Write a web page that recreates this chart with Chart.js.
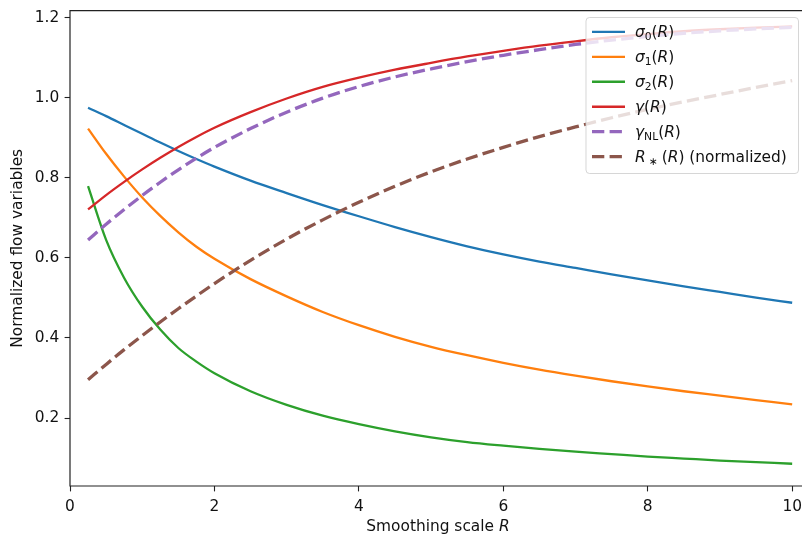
<!DOCTYPE html>
<html><head><meta charset="utf-8">
<script src="https://cdn.jsdelivr.net/npm/chart.js@4"></script>
<style>html,body{margin:0;padding:0;overflow:hidden;background:#fff;width:802px;height:536px}
#wrap{width:808px;height:540px;margin-top:-4px}</style></head>
<body><div id="wrap"><canvas id="c" width="808" height="540"></canvas></div>
<script>
// ---- data ----
const R = [0.25,0.5,0.75,1,1.25,1.5,1.75,2,2.5,3,3.5,4,4.5,5,5.5,6,6.5,7,7.5,8,8.5,9,9.5,10];
const sigma0 = [0.975,0.954,0.932,0.910,0.888,0.867,0.847,0.828,0.793,0.762,0.732,0.704,0.677,0.652,0.629,0.609,0.591,0.575,0.559,0.544,0.529,0.515,0.501,0.488];
const sigma1 = [0.923,0.860,0.803,0.751,0.705,0.664,0.628,0.598,0.547,0.504,0.465,0.432,0.403,0.378,0.357,0.338,0.321,0.306,0.292,0.279,0.267,0.256,0.245,0.234];
const sigma2 = [0.779,0.645,0.550,0.478,0.421,0.375,0.341,0.312,0.267,0.233,0.206,0.185,0.167,0.152,0.140,0.131,0.123,0.116,0.110,0.104,0.099,0.094,0.090,0.086];
const gammaR = [0.721,0.757,0.790,0.821,0.850,0.877,0.902,0.925,0.964,0.998,1.027,1.050,1.070,1.087,1.103,1.117,1.130,1.141,1.151,1.159,1.166,1.171,1.175,1.178];
const gammaNL = [0.645,0.684,0.721,0.756,0.789,0.820,0.849,0.876,0.923,0.964,0.999,1.028,1.052,1.072,1.090,1.106,1.120,1.133,1.144,1.153,1.161,1.167,1.172,1.176];
const Rstar = [0.296,0.334,0.371,0.406,0.440,0.473,0.505,0.536,0.594,0.647,0.695,0.739,0.779,0.815,0.847,0.876,0.903,0.927,0.950,0.971,0.990,1.008,1.026,1.043];

const xTickValues = [0,2,4,6,8,10];
const xTickLabels = ['0','2','4','6','8','10'];
const yTickValues = [0.2,0.4,0.6,0.8,1.0,1.2];
const yTickLabels = ['0.2','0.4','0.6','0.8','1.0','1.2'];
const xTitleText = 'Smoothing scale ';
const xTitleVar = 'R';
const yTitleText = 'Normalized flow variables';

const seriesNames = ['σ0(R)','σ1(R)','σ2(R)','γ(R)','γNL(R)','R∗(R) (normalized)'];
const legendParts = [
  [{t:'σ',it:1},{t:'0',sub:1},{t:'('},{t:'R',it:1},{t:')'}],
  [{t:'σ',it:1},{t:'1',sub:1},{t:'('},{t:'R',it:1},{t:')'}],
  [{t:'σ',it:1},{t:'2',sub:1},{t:'('},{t:'R',it:1},{t:')'}],
  [{t:'γ',it:1},{t:'('},{t:'R',it:1},{t:')'}],
  [{t:'γ',it:1},{t:'NL',sub:1},{t:'('},{t:'R',it:1},{t:')'}],
  [{t:'R',it:1,gap:3},{t:'∗',sub:1,gap:4},{t:'('},{t:'R',it:1},{t:')'},{t:' (normalized)'}]
];
const seriesValues = [sigma0, sigma1, sigma2, gammaR, gammaNL, Rstar];
const colors = ['#1f77b4','#ff7f0e','#2ca02c','#d62728','#9467bd','#8c564b'];
const dashed = [false,false,false,false,true,true];

// ---- styles ----
const F = 15.4;
const FAM = '"DejaVu Sans"';
const SOLID_W = 2.3, DASH_W = 3.3, DASH = [12.3, 5.3];
const OFF = 4; // canvas is shifted up by this many px

const datasets = seriesValues.map((vals, i) => ({
  label: seriesNames[i],
  data: R.map((r, k) => ({x: r, y: vals[k]})),
  borderColor: colors[i],
  backgroundColor: colors[i],
  borderWidth: dashed[i] ? DASH_W : SOLID_W,
  borderDash: dashed[i] ? DASH : [],
  borderCapStyle: 'butt',
  pointRadius: 0,
  fill: false,
  cubicInterpolationMode: 'monotone',
  order: seriesValues.length - i
}));

const framePlugin = {
  id: 'frame',
  afterDatasetsDraw(chart) {
    const {ctx, chartArea: a} = chart;
    ctx.save();
    ctx.strokeStyle = '#222';
    ctx.lineWidth = 1.2;
    ctx.beginPath();
    ctx.moveTo(a.left, a.bottom); ctx.lineTo(a.left, a.top); ctx.lineTo(a.right, a.top);
    ctx.lineTo(a.right, a.bottom); ctx.closePath();
    ctx.stroke();
    ctx.restore();
  },
  afterDraw(chart) {
    const ctx = chart.ctx;
    const a = chart.chartArea;
    ctx.save();
    ctx.fillStyle = '#111';
    ctx.textBaseline = 'alphabetic';
    ctx.font = F + 'px ' + FAM;
    const w1 = ctx.measureText(xTitleText).width;
    ctx.font = 'italic ' + F + 'px ' + FAM;
    const w2 = ctx.measureText(xTitleVar).width;
    const cx = (a.left + a.right) / 2;
    const x0 = cx - (w1 + w2) / 2;
    ctx.font = F + 'px ' + FAM;
    ctx.fillText(xTitleText, x0, 531 + OFF);
    ctx.font = 'italic ' + F + 'px ' + FAM;
    ctx.fillText(xTitleVar, x0 + w1, 531 + OFF);

    // legend
    const bx = 586, by = 17.5 + OFF, bw = 212.5, bh = 156, rr = 3.5;
    ctx.beginPath();
    ctx.roundRect(bx, by, bw, bh, rr);
    ctx.fillStyle = 'rgba(255,255,255,0.8)';
    ctx.fill();
    ctx.strokeStyle = 'rgba(204,204,204,0.8)';
    ctx.lineWidth = 1;
    ctx.stroke();
    for (let i = 0; i < seriesNames.length; i++) {
      const yc = 31.8 + OFF + i * 24.98;
      ctx.beginPath();
      ctx.strokeStyle = colors[i];
      ctx.lineWidth = dashed[i] ? DASH_W : SOLID_W;
      ctx.setLineDash(dashed[i] ? DASH : []);
      ctx.moveTo(592, yc); ctx.lineTo(625, yc);
      ctx.stroke();
      ctx.setLineDash([]);
      let x = 635;
      const yb = yc + 5.3;
      ctx.fillStyle = '#111';
      for (const p of legendParts[i]) {
        const size = p.sub ? F * 0.7 : F;
        ctx.font = (p.it ? 'italic ' : '') + size + 'px ' + FAM;
        ctx.fillText(p.t, x, p.sub ? yb + F * 0.2 : yb);
        x += ctx.measureText(p.t).width + (p.gap || 0);
      }
    }
    ctx.restore();
  }
};

new Chart(document.getElementById('c'), {
  type: 'line',
  data: { datasets },
  options: {
    responsive: false,
    animation: false,
    devicePixelRatio: 1,
    layout: { padding: { top: 10, right: 2, left: 0, bottom: 0 } },
    plugins: { legend: { display: false }, tooltip: { enabled: false } },
    scales: {
      x: {
        type: 'linear', min: 0, max: 10.19,
        afterFit(s) { s.height = 50; },
        afterBuildTicks(s) { s.ticks = xTickValues.map(v => ({value: v})); },
        border: { display: false },
        grid: { display: true, drawOnChartArea: false, drawTicks: true, tickLength: 5.4, tickColor: '#222', tickWidth: 1.1, color: 'rgba(0,0,0,0)' },
        ticks: { padding: 6, color: '#111', font: { family: 'DejaVu Sans', size: F }, maxRotation: 0, autoSkip: false,
          callback: (v, i) => xTickLabels[i] },
        title: { display: false }
      },
      y: {
        type: 'linear', min: 0.0304, max: 1.2175,
        afterFit(s) { s.width = 70; },
        afterBuildTicks(s) { s.ticks = yTickValues.map(v => ({value: v})); },
        border: { display: false },
        grid: { display: true, drawOnChartArea: false, drawTicks: true, tickLength: 5.4, tickColor: '#222', tickWidth: 1.1, color: 'rgba(0,0,0,0)' },
        ticks: { padding: 5.4, color: '#111', font: { family: 'DejaVu Sans', size: F }, autoSkip: false,
          callback: (v, i) => yTickLabels[i] },
        title: { display: true, text: yTitleText, color: '#111', font: { family: 'DejaVu Sans', size: F }, padding: { top: 8.7, bottom: 0 } }
      }
    }
  },
  plugins: [framePlugin]
});
</script>
</body></html>
